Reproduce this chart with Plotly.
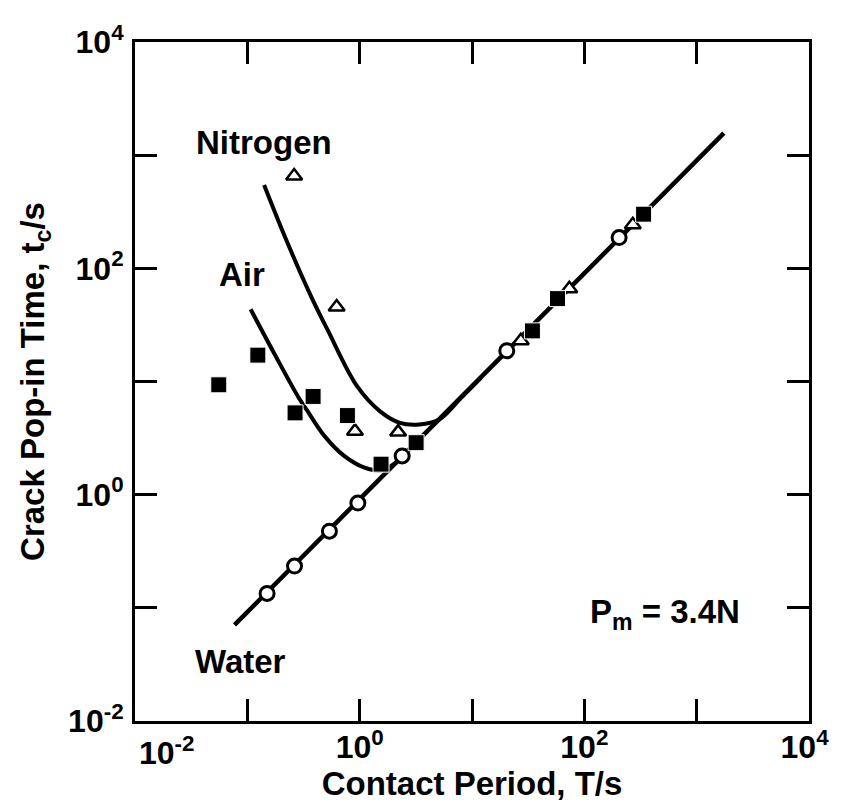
import plotly.graph_objects as go

# ---- data (log-log) ----
water_T = [0.150, 0.263, 0.538, 0.964, 2.39, 20.4, 204]
water_t = [0.134, 0.234, 0.476, 0.843, 2.20, 18.7, 187]

nitrogen_T = [0.261, 0.624, 0.908, 2.20, 27.2, 73.5, 270]
nitrogen_t = [653, 45.5, 3.64, 3.57, 22.9, 66, 243]

air_T = [0.0557, 0.124, 0.266, 0.385, 0.778, 1.55, 3.18, 34.5, 57.7, 337]
air_t = [9.35, 17.1, 5.28, 7.38, 5.0, 1.86, 2.88, 28, 54, 301]

water_line_T = [0.0769, 1746]
water_line_t = [0.0706, 1567]

nitrogen_curve_T = [0.141, 0.217, 0.372, 0.520, 0.951, 1.52, 2.28, 3.40, 5.09, 8.15, 12.0]
nitrogen_curve_t = [544, 188, 55.7, 28.4, 9.04, 5.45, 4.31, 4.17, 4.61, 7.33, 10.8]

air_curve_T = [0.107, 0.174, 0.284, 0.337, 0.487, 0.728, 1.09, 1.55, 2.20]
air_curve_t = [43.5, 17.6, 7.30, 5.64, 3.29, 2.20, 1.74, 1.64, 1.98]

tick_vals = [0.01, 0.1, 1, 10, 100, 1000, 10000]
y_tick_text = ["10<sup>-2</sup>", "", "10<sup>0</sup>", "", "10<sup>2</sup>", "", "10<sup>4</sup>"]
NB = "\u00a0"
# the first x label is drawn separately (it sits right of its tick in the reference)
x_tick_text = ["", "", "10<sup>0</sup>", "", "10<sup>2</sup>", "", "10<sup>4</sup>" + NB]
x_first_label = "10<sup>-2</sup>"

FONT = "Liberation Sans, Arial, Helvetica, sans-serif"
FS = 33
TFS = 32

fig = go.Figure()

fig.add_trace(go.Scatter(x=water_line_T, y=water_line_t, mode="lines",
                         line=dict(color="black", width=4.5), showlegend=False))
fig.add_trace(go.Scatter(x=nitrogen_curve_T, y=nitrogen_curve_t, mode="lines",
                         line=dict(color="black", width=4, shape="spline", smoothing=1),
                         showlegend=False))
fig.add_trace(go.Scatter(x=air_curve_T, y=air_curve_t, mode="lines",
                         line=dict(color="black", width=4, shape="spline", smoothing=1),
                         showlegend=False))

fig.add_trace(go.Scatter(x=water_T, y=water_t, mode="markers", name="Water",
                         marker=dict(symbol="circle", size=14, color="white",
                                     line=dict(color="black", width=3)),
                         showlegend=False))
fig.add_trace(go.Scatter(x=nitrogen_T, y=nitrogen_t, mode="markers", name="Nitrogen",
                         marker=dict(symbol="triangle-up", size=14, color="white",
                                     line=dict(color="black", width=2.5)),
                         showlegend=False))
fig.add_trace(go.Scatter(x=air_T, y=air_t, mode="markers", name="Air",
                         marker=dict(symbol="square", size=16, color="black",
                                     line=dict(color="white", width=1)),
                         showlegend=False))

tick_font = dict(family=FONT, size=TFS, color="black", weight="bold")
axis_common = dict(
    type="log", showgrid=False, zeroline=False,
    showline=True, linecolor="black", linewidth=3, mirror="allticks",
    ticks="inside", ticklen=22, tickwidth=3, tickcolor="black",
    tickvals=tick_vals, ticklabeloverflow="allow",
    tickfont=tick_font,
    title_font=dict(family=FONT, size=FS, color="black", weight="bold"),
)

fig.update_xaxes(range=[-2, 4], title_text="Contact Period, T/s",
                 ticktext=x_tick_text, ticklabelstandoff=-4, title_standoff=0,
                 **axis_common)
fig.update_yaxes(range=[-2, 4], title_text="Crack Pop-in Time, t<sub>c</sub>/s",
                 ticktext=y_tick_text, ticklabelstandoff=2, title_standoff=14,
                 **axis_common)

# first x tick label, placed just right of the lower-left corner
fig.add_annotation(text=x_first_label, x=0.047, y=0, xref="paper", yref="paper",
                   showarrow=False, xanchor="center", yanchor="top", yshift=-8,
                   font=tick_font)

ann_font = dict(family=FONT, size=FS, color="black", weight="bold")
labels = [
    ("Nitrogen", 0.192, 0.852),
    ("Air", 0.159, 0.657),
    ("Water", 0.157, 0.087),
    ("P<sub>m</sub> = 3.4N", 0.787, 0.158),
]
for txt, px, py in labels:
    fig.add_annotation(text=txt, x=px, y=py, xref="paper", yref="paper",
                       showarrow=False, xanchor="center", yanchor="middle", font=ann_font)

fig.update_layout(
    width=841, height=804,
    margin=dict(l=127, r=28, t=30, b=91),
    plot_bgcolor="white", paper_bgcolor="white",
    font=dict(family=FONT, color="black"),
)

fig.write_html("out.html")
